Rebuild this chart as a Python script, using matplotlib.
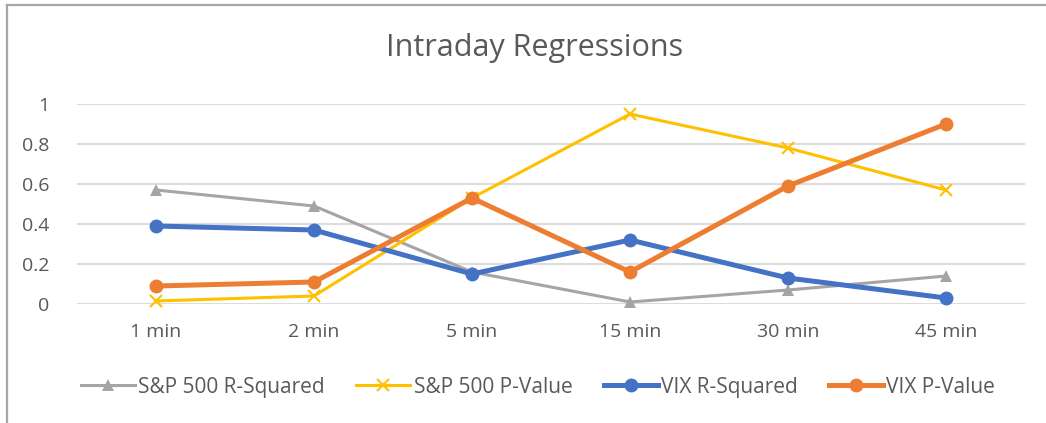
import numpy as np
import matplotlib

matplotlib.use('Agg')
import matplotlib.pyplot as plt
from matplotlib.lines import Line2D

categories = ["1 min", "2 min", "5 min", "15 min", "30 min", "45 min"]
sp_r2 = [0.57, 0.49, 0.16, 0.01, 0.07, 0.14]
sp_pval = [0.015, 0.04, 0.53, 0.95, 0.78, 0.57]
vix_r2 = [0.39, 0.37, 0.15, 0.32, 0.13, 0.03]
vix_pval = [0.09, 0.11, 0.53, 0.16, 0.59, 0.90]
yticks = [0, 0.2, 0.4, 0.6, 0.8, 1]

W, H = 1046, 423
fig = plt.figure(figsize=(W / 100, H / 100), dpi=100)
plt.rcParams['font.family'] = ['Open Sans', 'DejaVu Sans']
text_color = "#595959"

ax = fig.add_axes([77 / W, 1 - 304 / H, (1025 - 77) / W, 200 / H])
x = np.arange(len(categories))

series = [
    ("S&P 500 R-Squared", sp_r2, "#A5A5A5", 2.2, "^", 9),
    ("S&P 500 P-Value", sp_pval, "#FFC000", 2.2, "x", 9),
    ("VIX R-Squared", vix_r2, "#4472C4", 3.6, "o", 10),
    ("VIX P-Value", vix_pval, "#ED7D31", 3.6, "o", 10),
]
for label, vals, color, lw, marker, ms in series:
    ax.plot(x, vals, color=color, lw=lw, marker=marker, markersize=ms,
            markeredgewidth=1.5 if marker == "x" else 0,
            label=label, clip_on=False, zorder=3)

ax.set_xlim(-0.5, len(categories) - 0.5)
ax.set_ylim(0, 1)
ax.set_yticks(yticks)
ax.set_yticklabels([f"{t:g}" for t in yticks])
ax.set_xticks(x)
ax.set_xticklabels(categories)
ax.grid(axis='y', color="#D9D9D9", lw=1.3)
ax.set_axisbelow(True)
for s in ax.spines.values():
    s.set_visible(False)
ax.tick_params(length=0, labelsize=14, labelcolor=text_color)
ax.tick_params(axis='y', pad=20)
ax.tick_params(axis='x', pad=14)

fig.text(535 / W, 1 - 48 / H, "Intraday Regressions", ha='center', va='center',
         fontsize=22, color=text_color)

ax.legend(loc='center', bbox_to_anchor=(538 / W, 1 - 387 / H),
          bbox_transform=fig.transFigure, ncol=4, frameon=False,
          fontsize=15, labelcolor=text_color, handlelength=2.6,
          handletextpad=0.15, columnspacing=1.5)

fig.add_artist(Line2D([7 / W, 1], [1 - 5 / H, 1 - 5 / H], color="#A6A6A6", lw=1.6))
fig.add_artist(Line2D([7 / W, 7 / W], [0, 1 - 5 / H], color="#A6A6A6", lw=1.6))

fig.savefig("out.png", dpi=100)
